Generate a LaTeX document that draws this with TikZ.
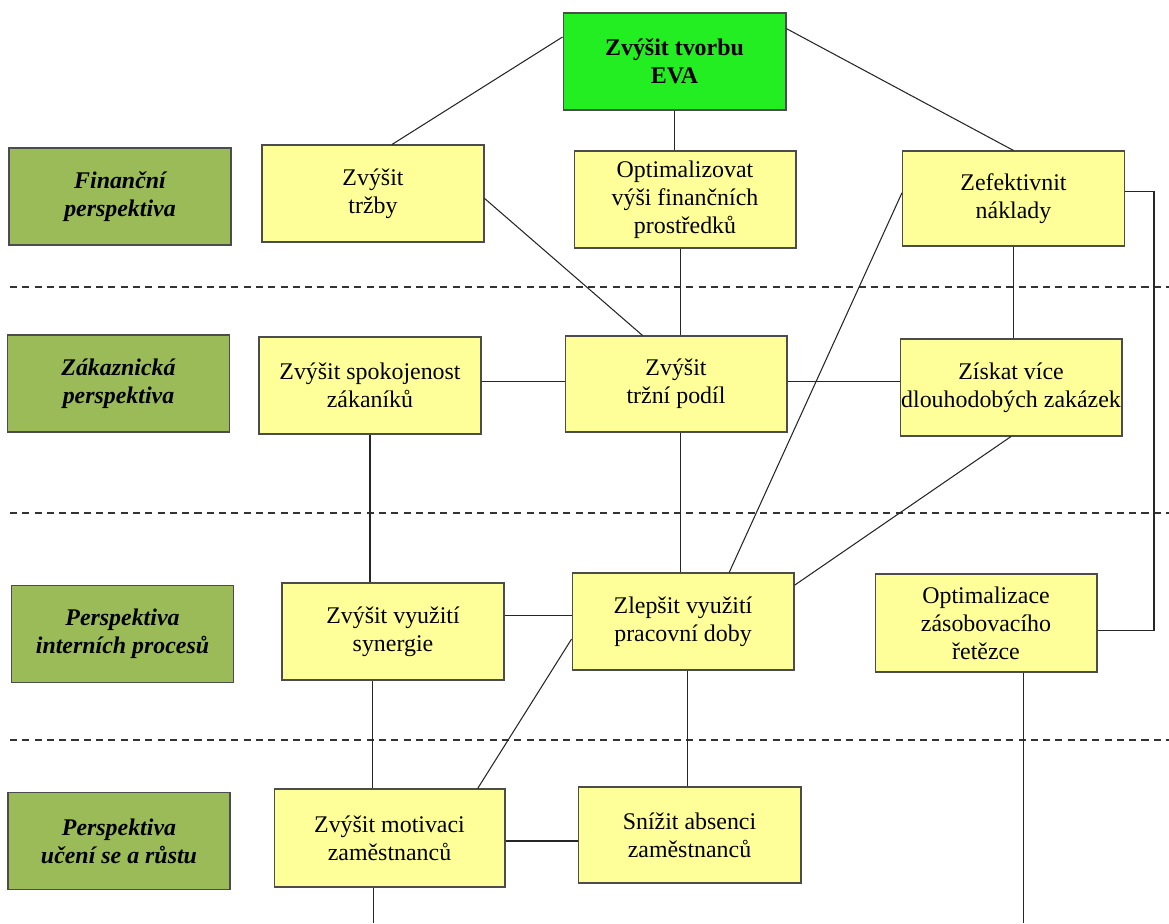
\documentclass[tikz,border=0pt]{standalone}
\usepackage{fontspec}
\setmainfont{Liberation Serif}
\usetikzlibrary{calc}
\definecolor{boxyellow}{RGB}{255,255,153}
\definecolor{perspgreen}{RGB}{155,187,89}
\definecolor{evagreen}{RGB}{34,238,34}

\begin{document}
\begin{tikzpicture}[x=0.02cm,y=-0.02cm,
  every node/.style={font=\fontsize{13.6}{16}\selectfont},
  goal/.style={draw=black!70,fill=boxyellow,rectangle,line width=0.6pt,
    minimum width=4.44cm,minimum height=1.94cm,inner sep=0pt,align=center},
  persp/.style={goal,fill=perspgreen,
    font=\fontsize{13.6}{16}\selectfont\bfseries\itshape},
  conn/.style={line width=0.6pt,black!85},
  sepline/.style={line width=0.6pt,black!80,dash pattern=on 4pt off 3pt}]
\useasboundingbox (0,0) rectangle (1169,923);

% perspective separators
\foreach \y in {287,513,740}
  \draw[sepline] (10,\y) -- (1169,\y);

% perspectives
\node (fin) at (120,196.5) [persp] {Finanční\\perspektiva};
\node (zak) at (118.5,383.5) [persp] {Zákaznická\\perspektiva};
\node (int) at (122.5,634) [persp] {Perspektiva\\interních procesů};
\node (uce) at (119,841) [persp] {Perspektiva\\učení se a růstu};

% goals
\node (eva) at (674.5,61.5) [goal,fill=evagreen,minimum width=4.46cm,
  font=\fontsize{13.6}{16}\selectfont\bfseries] {Zvýšit tvorbu\\EVA};
\node (trzby) at (373,193.5) [goal] {Zvýšit\\tržby};
\node (opt) at (685,199.5) [goal] {Optimalizovat\\výši finančních\\prostředků};
\node (zef) at (1013.5,198.5) [goal,minimum height=1.9cm] {Zefektivnit\\náklady};
\node (spok) at (370,385.5) [goal] {Zvýšit spokojenost\\zákaníků};
\node (podil) at (676,384) [goal,minimum height=1.92cm] {Zvýšit\\tržní podíl};
\node (ziskat) at (1011,387.5) [goal] {Získat více\\dlouhodobých zakázek};
\node (syn) at (393,631.5) [goal] {Zvýšit využití\\synergie};
\node (zlep) at (683,621.5) [goal] {Zlepšit využití\\pracovní doby};
\node (zas) at (986,623) [goal,minimum height=1.96cm] {Optimalizace\\zásobovacího\\řetězce};
\node (mot) at (389.5,838) [goal,minimum width=4.62cm,minimum height=1.96cm] {Zvýšit motivaci\\zaměstnanců};
\node (abs) at (689.5,835) [goal,minimum width=4.46cm,minimum height=1.92cm] {Snížit absenci\\zaměstnanců};
\coordinate (bot) at (0,923);

% links
\draw[conn] ($(eva.north west)!.25!(eva.south west)$) -- ($(trzby.north west)!.585!(trzby.north east)$);
\draw[conn] ($(eva.north east)!.165!(eva.south east)$) -- (zef.north);
\draw[conn] (eva.south) -- (eva.south |- opt.north);
\draw[conn] ($(trzby.north east)!.55!(trzby.south east)$) -- ($(podil.north west)!.35!(podil.north east)$);
\draw[conn] ($(opt.south west)!.48!(opt.south east)$) coordinate (o1) -- (o1 |- podil.north);
\draw[conn] (zef.south) -- (zef.south |- ziskat.north);
\draw[conn] ($(zef.north east)!.43!(zef.south east)$) -- ++(29,0)
  |- ($(zas.north east)!.58!(zas.south east)$);
\draw[conn] ($(zef.north west)!.44!(zef.south west)$) -- ($(zlep.north west)!.707!(zlep.north east)$);
\draw[conn] ($(spok.north east)!.46!(spok.south east)$) coordinate (s1) -- (s1 -| podil.west);
\draw[conn] ($(podil.north east)!.47!(podil.south east)$) coordinate (p1) -- (p1 -| ziskat.west);
\draw[conn] (spok.south) -- (spok.south |- syn.north);
\draw[conn] ($(podil.south west)!.52!(podil.south east)$) coordinate (p2) -- (p2 |- zlep.north);
\draw[conn] (ziskat.south) -- ($(zlep.north east)!.13!(zlep.south east)$);
\draw[conn] ($(syn.north east)!.34!(syn.south east)$) coordinate (y1) -- (y1 -| zlep.west);
\draw[conn] ($(zlep.north west)!.68!(zlep.south west)$) -- ($(mot.north west)!.88!(mot.north east)$);
\draw[conn] ($(syn.south west)!.41!(syn.south east)$) coordinate (y2) -- (y2 |- mot.north);
\draw[conn] ($(zlep.south west)!.52!(zlep.south east)$) coordinate (z1) -- (z1 |- abs.north);
\draw[conn] ($(mot.north east)!.53!(mot.south east)$) coordinate (m1) -- (m1 -| abs.west);
\draw[conn] ($(mot.south west)!.43!(mot.south east)$) coordinate (m2) -- (m2 |- bot);
\draw[conn] ($(zas.south west)!.667!(zas.south east)$) coordinate (a1) -- (a1 |- bot);
\end{tikzpicture}
\end{document}
